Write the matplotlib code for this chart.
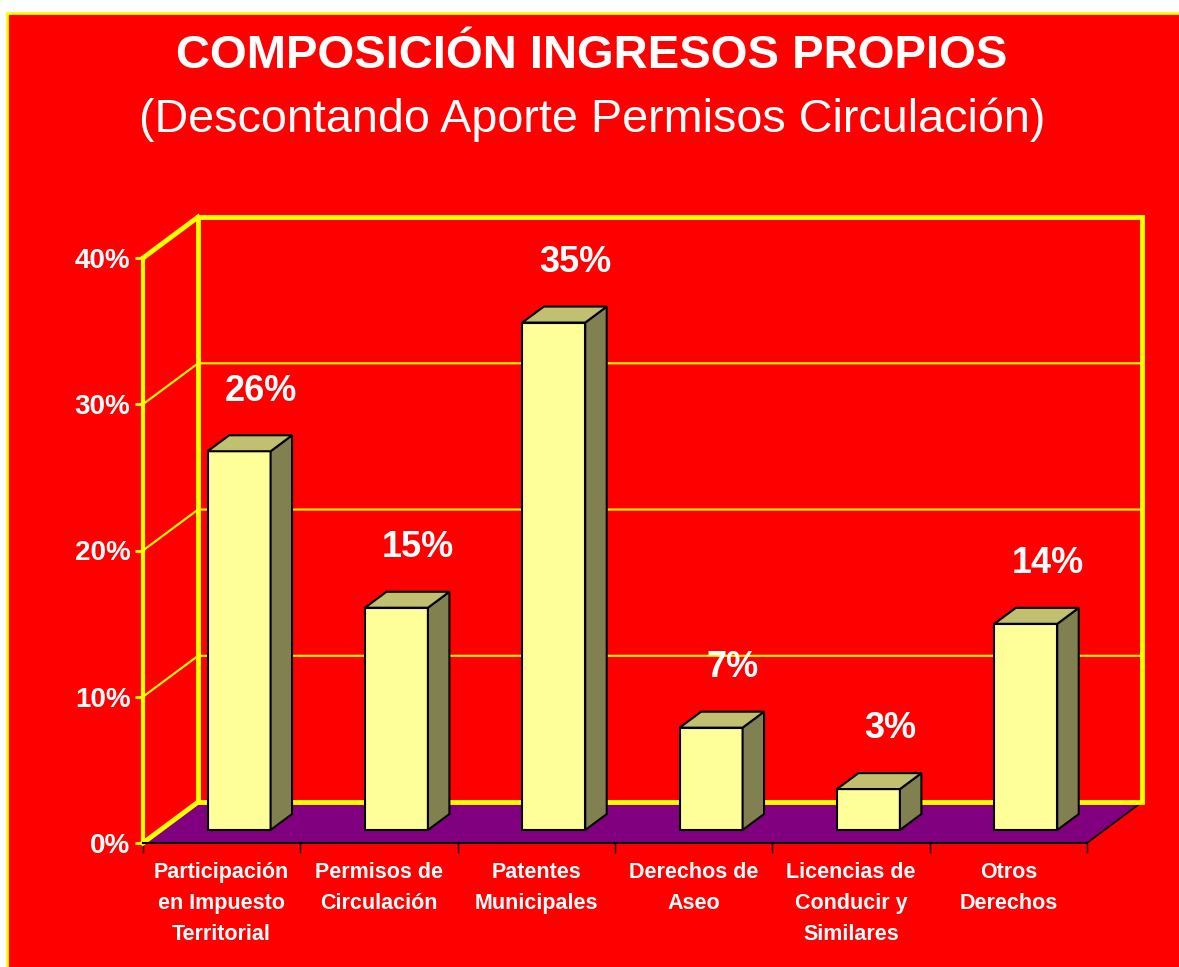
import matplotlib.pyplot as plt
from matplotlib.patches import Polygon, Rectangle
from matplotlib.ticker import PercentFormatter

plt.rcParams['font.family'] = ['Liberation Sans', 'DejaVu Sans']

# data
categories = ['Participación\nen Impuesto\nTerritorial', 'Permisos de\nCirculación',
              'Patentes\nMunicipales', 'Derechos de\nAseo',
              'Licencias de\nConducir y\nSimilares', 'Otros\nDerechos']
values = [0.259, 0.152, 0.347, 0.070, 0.028, 0.141]
y_ticks = [0, 0.1, 0.2, 0.3, 0.4]

RED = '#FF0000'
YELLOW = '#FFFF00'
PURPLE = '#800080'
FRONT = '#FFFF99'
TOP = '#C0C070'
SIDE = '#808050'

# fake 3D depth (in data units)
DX, DY = 0.35, 0.028
BAR_W = 0.4
D0, D1 = 0.317, 0.707

W, H = 1179, 967
fig = plt.figure(figsize=(W / 100, H / 100), dpi=100, facecolor='white')
fig.patches.append(Rectangle((7 / W, -0.05), 1.1, (H - 13) / H + 0.05,
                             transform=fig.transFigure, fc=RED, ec=YELLOW, lw=2,
                             zorder=-10))

ax = fig.add_axes([143 / W, (H - 843) / H, 944 / W, 585 / H])
ax.set_facecolor('none')
n = len(categories)
ax.set_xlim(0, n)
ax.set_ylim(0, 0.4)


def sh(x, y, d):
    return (x + d * DX, y + d * DY)


# floor
ax.add_patch(Polygon([(0, 0), (n, 0), sh(n, 0, 1), sh(0, 0, 1)], closed=True,
                     fc=PURPLE, ec='none', zorder=1, clip_on=False))
ax.plot([n, n + DX], [0, DY], color='black', lw=1.2, zorder=1.2, clip_on=False)

# gridlines on side and back wall
for yv in y_ticks[1:-1]:
    ax.plot([0, DX, n + DX], [yv, yv + DY, yv + DY], color=YELLOW, lw=1.5,
            zorder=1.5, clip_on=False)

# wall outlines
ax.add_patch(Rectangle((DX, DY), n, 0.4, fc='none', ec=YELLOW, lw=3.5,
                       zorder=1.6, clip_on=False))
ax.plot([0, DX], [0.4, 0.4 + DY], color=YELLOW, lw=3.5, zorder=1.6, clip_on=False)
ax.plot([0, DX], [0, DY], color=YELLOW, lw=3.5, zorder=1.6, clip_on=False)

# bars
for i, v in enumerate(values):
    x0 = i + (1 - BAR_W) / 2
    x1 = x0 + BAR_W
    fl = sh(x0, 0, D0)
    ax.add_patch(Rectangle(fl, BAR_W, v, fc=FRONT, ec='black', lw=1.5,
                           zorder=3, clip_on=False))
    ax.add_patch(Polygon([sh(x1, 0, D0), sh(x1, v, D0), sh(x1, v, D1), sh(x1, 0, D1)],
                         closed=True, fc=SIDE, ec='black', lw=1.5, zorder=3,
                         clip_on=False))
    ax.add_patch(Polygon([sh(x0, v, D0), sh(x1, v, D0), sh(x1, v, D1), sh(x0, v, D1)],
                         closed=True, fc=TOP, ec='black', lw=1.5, zorder=3,
                         clip_on=False))
    ax.text(i + 0.75, v + 0.05, f'{v:.0%}', ha='center', va='center',
            color='white', fontsize=26, fontweight='bold', zorder=4)

# axes styling
for s in ['top', 'right']:
    ax.spines[s].set_visible(False)
ax.spines['left'].set_color(YELLOW)
ax.spines['left'].set_linewidth(3)
ax.spines['bottom'].set_color('black')
ax.spines['bottom'].set_linewidth(1.5)

ax.set_yticks(y_ticks)
ax.yaxis.set_major_formatter(PercentFormatter(1.0, decimals=0))
ax.tick_params(axis='y', colors=YELLOW, length=6, width=2, pad=3,
               labelcolor='white', labelsize=20)
for t in ax.get_yticklabels():
    t.set_fontweight('bold')

ax.set_xticks([i + 0.5 for i in range(n)])
ax.set_xticklabels(categories, color='white', fontsize=15.5, fontweight='bold',
                   linespacing=1.6)
ax.set_xticks(range(n + 1), minor=True)
ax.tick_params(axis='x', which='major', length=0, pad=14)
ax.tick_params(axis='x', which='minor', length=7, width=1, color='black')

fig.text(0.502, (H - 56) / H, 'COMPOSICIÓN INGRESOS PROPIOS', ha='center',
         va='center', color='white', fontsize=34, fontweight='bold')
fig.text(0.502, (H - 120) / H, '(Descontando Aporte Permisos Circulación)',
         ha='center', va='center', color='white', fontsize=33.7)

fig.savefig('out.png', dpi=100, facecolor='white')
